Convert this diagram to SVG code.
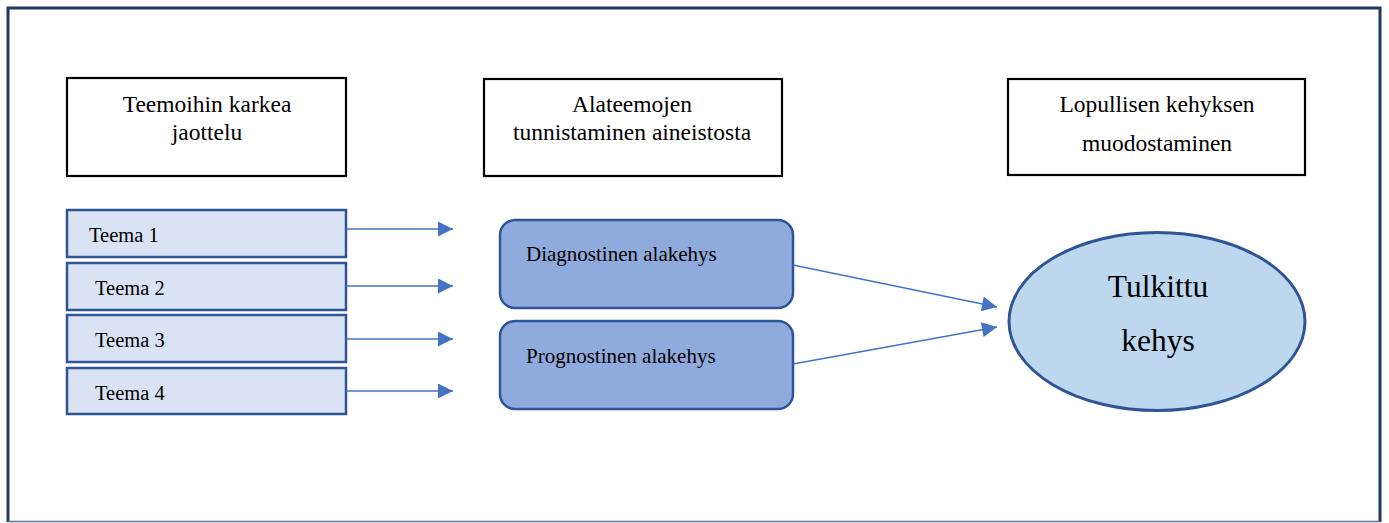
<svg xmlns="http://www.w3.org/2000/svg" width="1389" height="523" viewBox="0 0 1389 523">
<style>
text{font-family:"Liberation Serif","Times New Roman",serif;fill:#000}
.hdr{fill:#fff;stroke:#000;stroke-width:2.2}
.hd{font-size:23.5px;text-anchor:middle}
.tm{fill:#dae3f3;stroke:#2f5597;stroke-width:2.5}
.tt{font-size:20.5px}
.sub{fill:#8faadc;stroke:#2f5597;stroke-width:2.5}
.st{font-size:21px}
.con{stroke:#4472c4;stroke-width:1.5;fill:none;marker-end:url(#ah)}
</style>
<defs>
<marker id="ah" viewBox="0 0 10 10" refX="10" refY="5" markerUnits="userSpaceOnUse" markerWidth="16" markerHeight="15" orient="auto">
<path d="M0,0L10,5L0,10z" fill="#4472c4"/>
</marker>
</defs>
<rect width="1389" height="523" fill="#fff"/>
<g id="frame">
<path d="M8,522V8H1380V522" fill="none" stroke="#1f3864" stroke-width="3"/>
<line x1="8" y1="521.5" x2="1380" y2="521.5" stroke="#5b7394" stroke-width="1.5"/>
</g>
<g id="h1"><rect class="hdr" x="67" y="78" width="279" height="98"/>
<text class="hd" x="207" y="112">Teemoihin karkea</text><text class="hd" x="207" y="140">jaottelu</text></g>
<g id="h2"><rect class="hdr" x="484" y="79" width="298" height="97"/>
<text class="hd" x="632" y="112">Alateemojen</text><text class="hd" x="632" y="140">tunnistaminen aineistosta</text></g>
<g id="h3"><rect class="hdr" x="1008" y="79" width="297" height="96"/>
<text class="hd" x="1157" y="112">Lopullisen kehyksen</text><text class="hd" x="1157" y="151">muodostaminen</text></g>
<g id="t1"><rect class="tm" x="67" y="210" width="279" height="47"/><text class="tt" x="89" y="242">Teema 1</text></g>
<g id="t2"><rect class="tm" x="67" y="263" width="279" height="47"/><text class="tt" x="95" y="295">Teema 2</text></g>
<g id="t3"><rect class="tm" x="67" y="315" width="279" height="47"/><text class="tt" x="95" y="347">Teema 3</text></g>
<g id="t4"><rect class="tm" x="67" y="368" width="279" height="46"/><text class="tt" x="95" y="400">Teema 4</text></g>
<g id="d"><rect class="sub" x="500" y="220" width="293" height="88" rx="15"/><text class="st" x="526" y="261">Diagnostinen alakehys</text></g>
<g id="p"><rect class="sub" x="500" y="321" width="293" height="88" rx="15"/><text class="st" x="526" y="363">Prognostinen alakehys</text></g>
<g id="e"><ellipse cx="1157" cy="321.5" rx="148" ry="89" fill="#bdd7ee" stroke="#2f5597" stroke-width="3"/>
<text x="1158" y="297" font-size="31.5" text-anchor="middle">Tulkittu</text>
<text x="1158" y="351" font-size="31.5" text-anchor="middle">kehys</text></g>
<g id="connectors">
<line class="con" x1="346" y1="229" x2="453" y2="229"/>
<line class="con" x1="346" y1="286" x2="453" y2="286"/>
<line class="con" x1="346" y1="339" x2="453" y2="339"/>
<line class="con" x1="346" y1="391" x2="453" y2="391"/>
<line class="con" x1="793" y1="265" x2="997" y2="307"/>
<line class="con" x1="793" y1="364" x2="997" y2="327"/>
</g>
</svg>
